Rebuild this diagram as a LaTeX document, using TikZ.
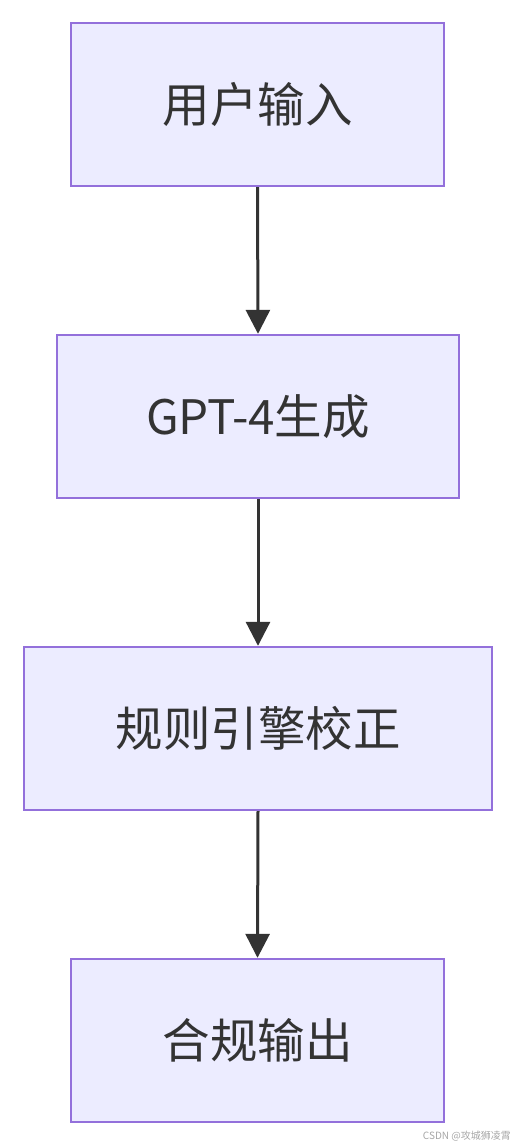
\documentclass[tikz,border=0pt]{standalone}
\usepackage{fontspec}
\setmainfont{Noto Sans CJK SC}
\usetikzlibrary{arrows.meta}
\definecolor{boxfill}{HTML}{ECECFF}
\definecolor{boxline}{HTML}{9370DB}
\definecolor{arrowc}{HTML}{333333}
\begin{document}
\begin{tikzpicture}[x=1pt,y=-1pt,
  flowbox/.style={draw=boxline,fill=boxfill,line width=2.4pt,text=arrowc,font=\fontsize{47.5}{52}\selectfont,inner sep=0pt},
  flowarrow/.style={draw=arrowc,line width=3pt,-{Triangle[length=24pt,width=24pt]}}]
\useasboundingbox (0,0) rectangle (516,1146);
\node[flowbox,minimum width=373pt,minimum height=163pt] (a) at (257.5,104.5) {用户输入};
\node[flowbox,minimum width=402pt,minimum height=163pt] (b) at (258,416.5) {GPT-4生成};
\node[flowbox,minimum width=468pt,minimum height=163pt] (c) at (258,728.5) {规则引擎校正};
\node[flowbox,minimum width=373pt,minimum height=163pt] (d) at (257.5,1040.5) {合规输出};
\draw[flowarrow] (a.south) -- (b.north);
\draw[flowarrow] (b.south) -- (c.north);
\draw[flowarrow] (c.south) -- (d.north);
\node[anchor=east,text=black!35,font=\fontsize{10}{11}\selectfont,inner sep=0pt] (wm) at (511,1136) {CSDN @攻城狮凌霄};
\end{tikzpicture}
\end{document}
